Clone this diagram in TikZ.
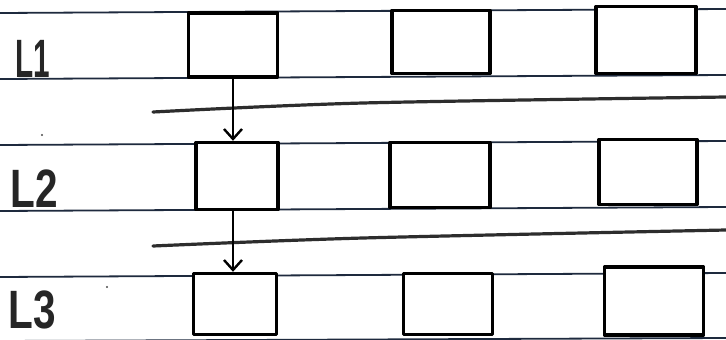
\documentclass[tikz,border=0pt]{standalone}
\usepackage{fontspec}
\setmainfont{Liberation Sans}
\usetikzlibrary{arrows.meta}
\begin{document}
\begin{tikzpicture}[x=1pt,y=-1pt,
  rule/.style={draw={rgb,255:red,30;green,42;blue,62}, line width=1.8pt},
  sep/.style={draw={rgb,255:red,45;green,45;blue,45}, line width=3.2pt, line cap=round},
  cell/.style={draw=black, line width=3.4pt, rectangle, fill=white, inner sep=0pt, line join=round},
  flow/.style={draw=black, line width=2.4pt, -{Straight Barb[length=10pt,width=18pt,line width=2.4pt]}},
  lab/.style={font=\fontsize{54}{54}\selectfont\bfseries, inner sep=0pt, text depth=0pt, text=black!85, anchor=south}
]
\useasboundingbox (0,0) rectangle (726,340);
\fill[white] (0,0) rectangle (726,340);
% ruled paper lines
\coordinate (r1a) at (0,13);  \coordinate (r1b) at (726,9);
\coordinate (r2a) at (0,79);  \coordinate (r2b) at (726,75);
\coordinate (r3a) at (0,145); \coordinate (r3b) at (726,141);
\coordinate (r4a) at (0,211); \coordinate (r4b) at (726,207);
\coordinate (r5a) at (0,277); \coordinate (r5b) at (726,273);
\coordinate (r6a) at (0,341); \coordinate (r6b) at (726,338);
\foreach \r in {1,...,6} { \draw[rule] (r\r a) -- (r\r b); }
% separator strokes
\coordinate (s1a) at (153,112); \coordinate (s1m) at (363,103); \coordinate (s1b) at (726,97);
\coordinate (s2a) at (153,246); \coordinate (s2m) at (363,238); \coordinate (s2b) at (726,230);
\draw[sep] plot[smooth] coordinates {(s1a) (s1m) (s1b)};
\draw[sep] plot[smooth] coordinates {(s2a) (s2m) (s2b)};
% boxes
\node[cell, minimum width=89pt, minimum height=64pt] (b11) at (233,45) {};
\node[cell, minimum width=98pt, minimum height=63pt] (b12) at (441,42) {};
\node[cell, minimum width=100pt, minimum height=67pt] (b13) at (646,40) {};
\node[cell, minimum width=82pt, minimum height=67pt] (b21) at (237,176) {};
\node[cell, minimum width=100pt, minimum height=65pt] (b22) at (440,175) {};
\node[cell, minimum width=98pt, minimum height=65pt] (b23) at (648,172) {};
\node[cell, minimum width=83pt, minimum height=61pt] (b31) at (235,304) {};
\node[cell, minimum width=89pt, minimum height=61pt] (b32) at (448,304) {};
\node[cell, minimum width=99pt, minimum height=68pt] (b33) at (654,301) {};
% arrows
\draw[flow] (b11.south) -- (b11.south |- b21.north);
\draw[flow] ([xshift=-4pt]b21.south) -- ([xshift=-4pt]b21.south |- b31.north);
% labels
\node[lab] (l1) at (33,78) {\scalebox{0.55}[1]{L1}};
\node[lab] (l2) at (34,208) {\scalebox{0.75}[1]{L2}};
\node[lab] (l3) at (32,329) {\scalebox{0.75}[1]{L3}};
% pen dots
\fill[black!70] (42,135) circle (1.2pt);
\fill[black!70] (107,287) circle (1.2pt);
\end{tikzpicture}
\end{document}
